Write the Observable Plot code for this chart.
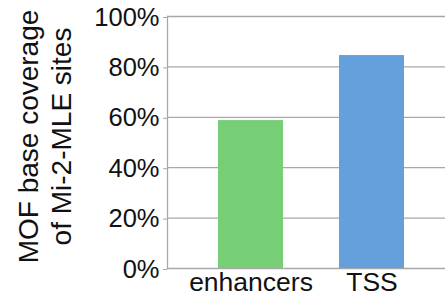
<!DOCTYPE html>
<html>
<head>
<meta charset="utf-8">
<script src="https://cdn.jsdelivr.net/npm/d3@7"></script>
<script src="https://cdn.jsdelivr.net/npm/@observablehq/plot@0.6"></script>
<style>
  html, body { margin: 0; padding: 0; background: #fff; }
  #chart { width: 445px; height: 300px; overflow: hidden; }
</style>
</head>
<body>
<div id="chart"></div>
<script>
const categories = ["enhancers", "TSS"];
const values = [0.587, 0.845];
const barColors = ["#76CF76", "#64A0DC"];
const yTicks = [0, 0.2, 0.4, 0.6, 0.8, 1.0];
const yLabelLines = ["MOF base coverage", "of Mi-2-MLE sites"];

const data = categories.map((c, i) => ({category: c, value: values[i]}));
const gridColor = "#a8a8a8";

const chart = Plot.plot({
  width: 445,
  height: 300,
  marginLeft: 167,
  marginRight: 0,
  marginTop: 16,
  marginBottom: 32,
  style: {fontFamily: "'Liberation Sans', Arial, sans-serif", fontSize: "25px", color: "#111", background: "white", overflow: "visible"},
  x: {domain: categories, paddingInner: 0.46, paddingOuter: 0.37, align: 0.556, label: null, axis: null},
  y: {domain: [0, 1], label: null, axis: null},
  color: {domain: categories, range: barColors},
  marks: [
    Plot.ruleY(yTicks, {stroke: gridColor, strokeWidth: 1.3}),
    Plot.frame({anchor: "left", stroke: gridColor, strokeWidth: 1.3}),
    Plot.barY(data, {x: "category", y: "value", fill: "category"}),
    Plot.axisY({ticks: yTicks, tickFormat: d => Math.round(d * 100) + "%", tickSize: 4, tickPadding: 4, stroke: gridColor, fill: "#111", fontSize: 25.5, dy: 1, label: null}),
    Plot.axisX({tickSize: 0, tickPadding: 4, fill: "#111", fontSize: 26.5, label: null}),
    Plot.text([yLabelLines.join("\n")], {frameAnchor: "left", rotate: -90, dx: -153, dy: -6, textAnchor: "middle", lineAnchor: "top", fontSize: 28, lineHeight: 1.18, fill: "#111"})
  ]
});
document.getElementById("chart").appendChild(chart);
</script>
</body>
</html>
